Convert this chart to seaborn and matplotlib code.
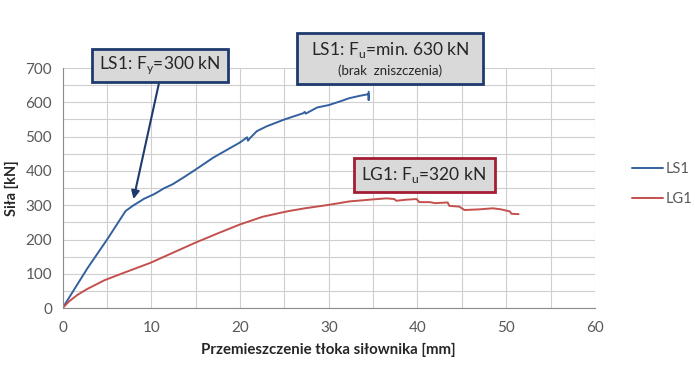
import numpy as np
import pandas as pd
import seaborn as sns
import matplotlib.pyplot as plt
from matplotlib.patches import Rectangle
from matplotlib.ticker import MultipleLocator

# Przemieszczenie [mm], siła [kN]
ls1_x = [0, 2.8, 5.1, 7.1, 7.9, 9.2, 10.3, 10.9, 11.4, 12.4, 13.7, 15.0, 17.0, 18.5,
         20.0, 20.8, 20.9, 21.1, 21.9, 23.0, 25.0, 27.1, 27.3, 27.4, 28.7, 30.0, 31.2,
         32.3, 33.5, 34.5, 34.5, 34.5]
ls1_y = [0, 116, 203, 283, 298, 319, 332, 341, 349, 361, 382, 404, 439, 461,
         483, 498, 488, 495, 516, 530, 550, 568, 572, 567, 585, 592, 602,
         612, 619, 624, 607, 631]

lg1_x = [0, 0.75, 1.7, 2.8, 4.7, 6.6, 9.9, 12.4, 14.9, 17.5, 20.0, 22.5, 24.4,
         25.5, 27.3, 30.0, 32.3, 35.0, 36.5, 37.4, 37.6, 38.7, 39.9, 40.2, 41.4, 42.0,
         43.4, 43.6, 44.7, 45.3, 47.0, 48.5, 49.4, 50.4, 50.6, 51.4]
lg1_y = [0, 20, 39, 56, 81, 100, 132, 161, 190, 218, 244, 266, 277,
         283, 291, 301, 311, 317, 320, 318, 313, 316, 318, 309, 309, 306,
         308, 298, 296, 286, 288, 291, 288, 282, 275, 274]

series = ["LS1", "LG1"]
colors = ["#33609E", "#C4504D"]

df = pd.concat([
    pd.DataFrame({"x": ls1_x, "y": ls1_y, "seria": "LS1"}),
    pd.DataFrame({"x": lg1_x, "y": lg1_y, "seria": "LG1"}),
])

sns.set_style("white")
plt.rcParams["font.family"] = ["Lato", "DejaVu Sans"]
plt.rcParams["mathtext.fontset"] = "custom"
plt.rcParams["mathtext.rm"] = "Lato"

W, H = 695, 391
fig = plt.figure(figsize=(W / 100, H / 100), dpi=100)
ax = fig.add_axes([0.09, 0.212, 0.766, 0.614])

sns.lineplot(data=df, x="x", y="y", hue="seria", estimator=None, sort=False,
             palette=dict(zip(series, colors)), hue_order=series, lw=1.4, ax=ax, legend=False)

ax.set_xlim(0, 60)
ax.set_ylim(0, 700)
ax.xaxis.set_major_locator(MultipleLocator(10))
ax.xaxis.set_minor_locator(MultipleLocator(5))
ax.yaxis.set_major_locator(MultipleLocator(100))
ax.yaxis.set_minor_locator(MultipleLocator(50))
ax.grid(True, which="both", color="#cfcfcf", lw=0.8)
ax.set_axisbelow(True)
for s in ["top", "right"]:
    ax.spines[s].set_visible(False)
for s in ["left", "bottom"]:
    ax.spines[s].set_color("#8c8c8c")
ax.tick_params(axis="both", which="major", direction="out", length=4, color="#8c8c8c",
               labelsize=11, labelcolor="#595959")
ax.tick_params(axis="x", which="major", pad=5)
ax.tick_params(axis="both", which="minor", length=0)
ax.set_xlabel("Przemieszczenie tłoka siłownika [mm]", fontsize=10.8, fontweight="bold",
              labelpad=6, color="#262626")
ax.set_ylabel("Siła [kN]", fontsize=10.5, fontweight="bold", labelpad=5, color="#262626")

# legenda
handles = [plt.Line2D([], [], color=c, lw=1.4) for c in colors]
fig.legend(handles, series, loc="center left", bbox_to_anchor=(632 / W, 1 - 184 / H),
           frameon=False, borderpad=0, borderaxespad=0, fontsize=10.5,
           handlelength=2.1, handletextpad=0.2, labelspacing=1.15, labelcolor="#595959")


# opisy (ramki w pikselach obrazu)
def box(x0, y0, x1, y1, ec):
    fig.patches.append(Rectangle((x0 / W, 1 - y1 / H), (x1 - x0) / W, (y1 - y0) / H,
                                 transform=fig.transFigure, fc="#d9d9d9", ec=ec, lw=2,
                                 zorder=5))


def label(x, y, s, size):
    fig.text(x / W, 1 - y / H, s, ha="center", va="center", fontsize=size, zorder=6)


blue_ec = "#1F3A6E"
red_ec = "#A31D33"

box(92, 49, 228, 82, blue_ec)
label(160, 65, r"LS1: F$_\mathregular{y}$=300 kN", 12.5)
ax.annotate("", xy=(8.0, 318), xytext=(159 / W, 1 - 83 / H), textcoords="figure fraction",
            annotation_clip=False,
            arrowprops=dict(arrowstyle="-|>", color=blue_ec, lw=1.5,
                            shrinkA=0, shrinkB=0, mutation_scale=12))

box(297, 33, 483, 84, blue_ec)
label(390, 50, r"LS1: F$_\mathregular{u}$=min. 630 kN", 12.5)
label(390, 71, "(brak  zniszczenia)", 9.5)

box(354, 158, 495, 192, red_ec)
label(424, 175, r"LG1: F$_\mathregular{u}$=320 kN", 12.5)

fig.savefig("out.png", dpi=100)
